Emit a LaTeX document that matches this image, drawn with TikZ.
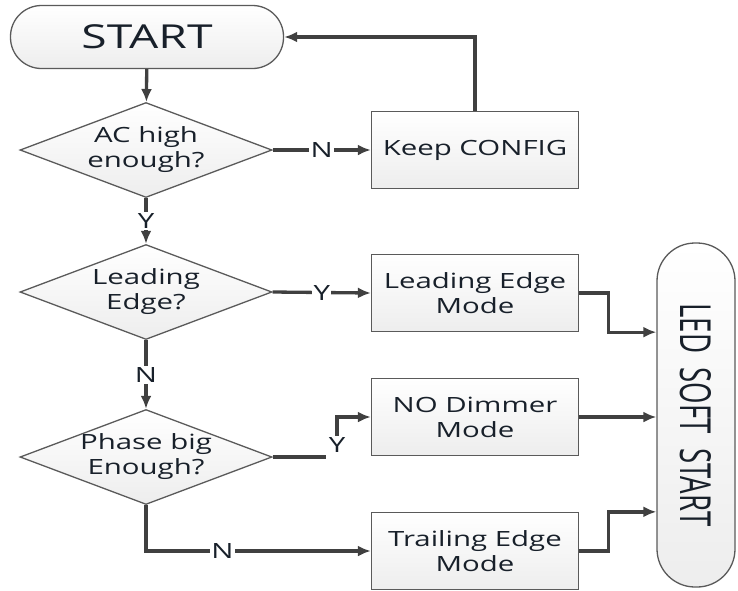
\documentclass[tikz,border=0pt]{standalone}
\usepackage{fontspec}
\setmainfont{Open Sans}[FakeStretch=1.4]
\newfontfamily\ledfont{Open Sans}
\usepackage{graphicx}
\usepackage{xcolor}
\usepackage{tikz}
\usetikzlibrary{arrows.meta,positioning,calc,shapes.geometric}

\definecolor{boxline}{HTML}{5A5A5A}
\definecolor{flowline}{HTML}{404040}
\definecolor{txt}{HTML}{18202A}

\tikzset{
	base/.style={draw=boxline, line width=1.3pt, top color=white, bottom color=gray!14,
		text=txt, font=\fontsize{21}{25}\selectfont, align=center},
	term/.style={base, rectangle, inner sep=0pt},
	procbox/.style={base, rectangle, minimum width=207pt, minimum height=77pt, inner sep=0pt},
	decide/.style={base, diamond, minimum width=252pt, minimum height=95pt, inner sep=0pt},
	dtext/.style={text=txt, font=\fontsize{21}{25}\selectfont, align=center},
	flow/.style={draw=flowline, line width=3.3pt, -{Latex[length=13pt,width=11pt]}},
	lab/.style={fill=white, inner sep=1.5pt, text=txt, font=\fontsize{21}{25}\selectfont}
}

\begin{document}
\begin{tikzpicture}[x=1pt,y=-1pt]
	\useasboundingbox (0,0) rectangle (738,590);
	
	% terminals
	\node[term, minimum width=273pt, minimum height=63pt, rounded corners=31pt,
		font=\fontsize{33}{38}\selectfont] (start) at (147,37) {START};
	\node[term, minimum width=78pt, minimum height=344pt, rounded corners=38pt] (led) at (696,415)
		{\rotatebox{-90}{\resizebox{223pt}{31pt}{\ledfont LED\ \ SOFT\ \ START}}};
	
	% decisions
	\node[decide, label={[dtext]center:AC high\\enough?}] (acok) at (146,150) {};
	\node[decide, label={[dtext]center:Leading\\Edge?}] (lead?) at (146,292) {};
	\node[decide, label={[dtext]center:Phase big\\Enough?}] (phase) at (146,457) {};
	
	% processes
	\node[procbox] (keep) at (475,150) {Keep CONFIG};
	\node[procbox] (lead) at (475,293) {Leading Edge\\Mode};
	\node[procbox] (nodim) at (475,417) {NO Dimmer\\Mode};
	\node[procbox] (trail) at (475,551) {Trailing Edge\\Mode};
	
	% flow
	\draw[flow] (start) -- (acok);
	\draw[flow] (acok.east) -- node[lab]{N} (keep.west);
	\draw[flow] (keep.north) |- (start.east);
	\draw[flow] (acok.south) -- node[lab]{Y} (lead?.north);
	\draw[flow] (lead?.east) -- node[lab]{Y} (lead.west);
	\draw[flow] (lead?.south) -- node[lab]{N} (phase.north);
	
	\coordinate (yend) at ($(phase.east)+(53,0)$);
	\draw[flowline, line width=3.3pt] (phase.east) -- (yend);
	\node[lab] (ylab) at (337,445) {Y};
	\draw[flow] (ylab.north) |- (nodim.west);
	\draw[flow] (phase.south) |- node[lab, pos=0.67]{N} (trail.west);
	
	% into soft start
	\draw[flow] (lead.east) -- ++(29,0) |- (led.west |- lead.south);
	\draw[flow] (nodim.east) -- (led.west |- nodim.east);
	\draw[flow] (trail.east) -- ++(29,0) |- (led.west |- trail.north);
\end{tikzpicture}
\end{document}
